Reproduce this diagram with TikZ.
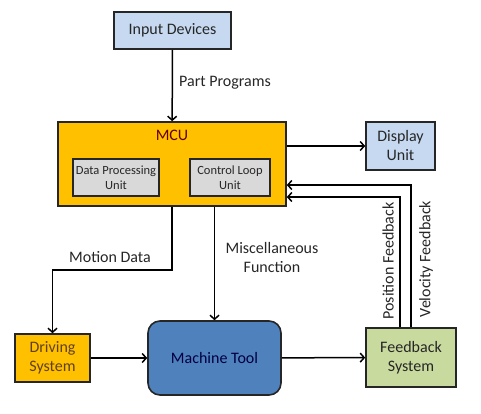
\documentclass[tikz,border=0pt]{standalone}
\usepackage{fontspec}
\setmainfont{Carlito}
\usetikzlibrary{arrows.meta}
\definecolor{boxblue}{HTML}{C6D9F1}
\definecolor{mcuorange}{HTML}{FFC000}
\definecolor{unitgray}{HTML}{D9D9D9}
\definecolor{toolblue}{HTML}{4F81BD}
\definecolor{fbgreen}{HTML}{C9DA9F}
\definecolor{edgegray}{HTML}{262626}
\tikzset{
	blk/.style={draw=edgegray, line width=1.6pt, align=center, inner sep=0pt, text=edgegray,
		font=\fontsize{16}{19}\selectfont},
	subblk/.style={blk, fill=unitgray, font=\fontsize{12.5}{14.5}\selectfont},
	lbl/.style={align=center, text=edgegray, font=\fontsize{16}{19}\selectfont},
	flow/.style={line width=1.5pt, draw=black, -{Straight Barb[length=4pt,width=9pt,line width=1.5pt]}}
}
\begin{document}
\begin{tikzpicture}[x=1pt, y=-1pt]
		\useasboundingbox (0,0) rectangle (481,414);
		% blocks
		\node[blk, fill=boxblue, minimum width=117pt, minimum height=37pt] (inp) at (172.5,30.5) {Input Devices};
		\node[blk, fill=mcuorange, minimum width=228pt, minimum height=84pt] (mcu) at (172,164) {};
		\node[lbl, text=red!40!black] (mcutxt) at (172,135) {MCU};
		\node[subblk, minimum width=86pt, minimum height=37pt] (dpu) at (116,177.5) {Data Processing\\Unit};
		\node[subblk, minimum width=80pt, minimum height=37pt] (clu) at (230,177.5) {Control Loop\\Unit};
		\node[blk, fill=boxblue, minimum width=69pt, minimum height=48pt] (disp) at (400.5,146) {Display\\Unit};
		\node[blk, fill=mcuorange, text=brown!50!black, minimum width=75pt, minimum height=48pt] (drv) at (52.5,358) {Driving\\System};
		\node[blk, fill=toolblue, text=blue!25!black, rounded corners=12pt, minimum width=133pt, minimum height=74pt] (mt) at (214.5,358) {Machine Tool};
		\node[blk, fill=fbgreen, minimum width=90pt, minimum height=59pt] (fb) at (411,357.5) {Feedback\\System};
		% connectors
		\draw[flow] (inp) -- (mcu);
		\draw[flow] (mcu.east |- disp) -- (disp.west);
		\coordinate (mdbend) at (172,270);
		\draw[flow] (mcu.south) -- (mdbend) -| (drv.north);
		\draw[flow] (mcu.south -| mt.north) -- (mt.north);
		\draw[flow] (drv) -- (mt);
		\draw[flow] (mt) -- (fb);
		\draw[flow] ([xshift=-11pt]fb.north) |- ([yshift=-33pt]mcu.east);
		\draw[flow] (fb.north) |- ([yshift=-21pt]mcu.east);
		% labels
		\node[lbl] (pp) at (225,83) {Part Programs};
		\node[lbl] (md) at (110,257) {Motion Data};
		\node[lbl] (mf) at (272,258) {Miscellaneous\\Function};
		\node[lbl, rotate=90] (pf) at (388,261) {Position Feedback};
		\node[lbl, rotate=90] (vf) at (426,259) {Velocity Feedback};
\end{tikzpicture}
\end{document}
